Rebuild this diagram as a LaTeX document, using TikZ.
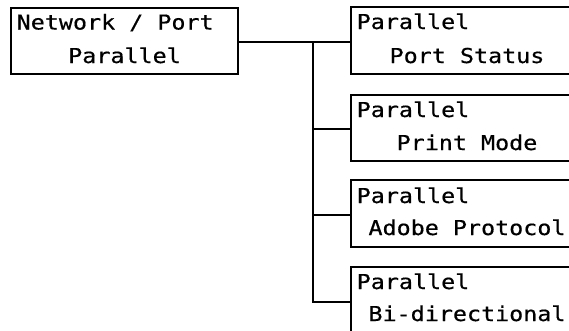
\documentclass[tikz,border=0pt]{standalone}
\usepackage{fontspec}
\usepackage{tikz}
\usetikzlibrary{positioning,calc}
\newfontfamily\panelfont[FakeStretch=1.14,FakeBold=0.5]{DejaVu Sans Mono}
\tikzset{
  panel/.style={draw=black,fill=white,line width=2pt,outer sep=0pt,
                inner sep=0pt,anchor=north west},
  panelhead/.style={anchor=base west,inner sep=0,
                    font=\panelfont\fontsize{20.5}{24}\selectfont},
  paneltail/.style={anchor=base,inner sep=0,
                    font=\panelfont\fontsize{20.5}{24}\selectfont},
  wire/.style={line width=2pt,black},
}
\begin{document}
\begin{tikzpicture}[x=1pt,y=1pt]
  \useasboundingbox (0,0) rectangle (569,-330);
  \clip (0,0) rectangle (569,-330);
  \fill[white] (0,0) rectangle (569,-330);

  % menu on the left
  \node[panel,minimum width=227pt,minimum height=66.5pt](net)at(11,-7.5){};
  \node[panelhead] at([xshift=5.5pt,yshift=-22pt]net.north west){Network / Port};
  \node[paneltail] at([yshift=-55.5pt]net.north){Parallel};

  % sub-menus, cut off at the right edge
  \node[panel,minimum width=232pt,minimum height=67pt](ps)at(351,-7){};
  \node[panelhead] at([xshift=5.5pt,yshift=-22pt]ps.north west){Parallel};
  \node[paneltail] at([yshift=-56pt]ps.north){Port Status};

  \node[panel,minimum width=232pt,minimum height=66pt](pm)at(351,-95){};
  \node[panelhead] at([xshift=5.5pt,yshift=-22pt]pm.north west){Parallel};
  \node[paneltail] at([yshift=-55pt]pm.north){Print Mode};

  \node[panel,minimum width=232pt,minimum height=67pt](ap)at(351,-180){};
  \node[panelhead] at([xshift=5.5pt,yshift=-23pt]ap.north west){Parallel};
  \node[paneltail] at([yshift=-55pt]ap.north){Adobe Protocol};

  \node[panel,minimum width=232pt,minimum height=67pt](bd)at(351,-267){};
  \node[panelhead] at([xshift=5.5pt,yshift=-22pt]bd.north west){Parallel};
  \node[paneltail] at([yshift=-54pt]bd.north){Bi-directional};

  % tree lines
  \coordinate (spine) at (313,-42);
  \draw[wire] (net.east |- spine) -- (ps.west |- spine);
  \draw[wire] (spine) |- ([yshift=-1pt]pm.west);
  \draw[wire] (spine) |- ([yshift=-1.5pt]ap.west);
  \draw[wire,line cap=rect] (spine) |- ([yshift=-1.5pt]bd.west);
\end{tikzpicture}
\end{document}
